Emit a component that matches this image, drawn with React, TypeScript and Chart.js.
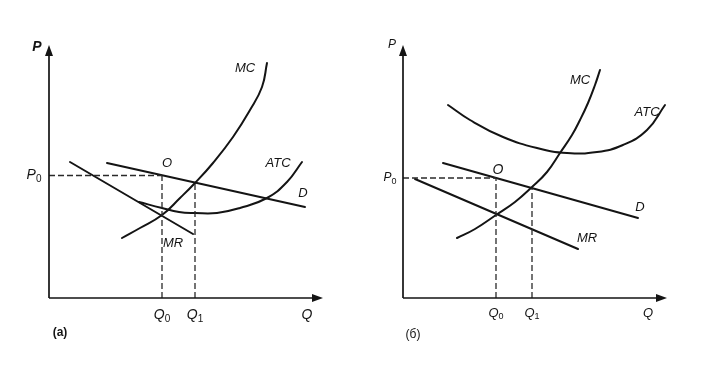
import React, { useEffect, useRef } from "react";
import { Chart, registerables } from "chart.js";
Chart.register(...registerables);

type Pt = [number, number];

// ---- Panel (a) : curves in abstract (Q, P) units ----
const A_MC: Pt[] = [[7.3, 6.0], [9.1, 7.0], [11.3, 8.3], [13.1, 10.0], [14.6, 11.5], [16.4, 13.5], [18.4, 16.1], [20.1, 18.8], [21.3, 21.1], [21.8, 23.5]];
const A_ATC: Pt[] = [[9.0, 9.6], [11.3, 9.0], [13.0, 8.6], [14.6, 8.5], [16.8, 8.5], [19.1, 9.0], [21.8, 10.0], [23.8, 11.6], [25.3, 13.6]];
const A_D: Pt[] = [[5.8, 13.5], [25.6, 9.1]];
const A_MR: Pt[] = [[2.1, 13.6], [14.4, 6.4]];
const A_Q0 = 11.3;
const A_Q1 = 14.6;
const A_P0 = 12.25;
const A_PQ1 = 11.55;
const A_AXIS_MAX: Pt = [27.4, 25.3];

// ---- Panel (б) ----
const B_MC: Pt[] = [[5.4, 6.0], [7.2, 6.9], [9.3, 8.3], [11.2, 9.6], [12.9, 11.1], [14.4, 12.6], [15.7, 14.5], [16.9, 16.3], [17.7, 17.8], [18.5, 19.5], [19.2, 21.3], [19.7, 22.8]];
const B_ATC: Pt[] = [[4.5, 19.3], [6.7, 17.8], [10.0, 16.1], [13.4, 15.0], [16.4, 14.5], [19.4, 14.6], [22.0, 15.3], [24.4, 16.8], [26.2, 19.3]];
const B_D: Pt[] = [[4.0, 13.5], [23.5, 8.0]];
const B_MR: Pt[] = [[1.2, 11.9], [17.5, 4.9]];
const B_Q0 = 9.3;
const B_Q1 = 12.9;
const B_P0 = 12.0;
const B_PQ1 = 11.0;
const B_AXIS_MAX: Pt = [26.4, 25.3];

type Label = { text: string; sub?: string; at: Pt; bold?: boolean; italic?: boolean; size?: number };

const A_LABELS: Label[] = [
  { text: "P", at: [-1.2, 25.1], bold: true, size: 14 },
  { text: "P", sub: "0", at: [-1.5, A_P0], size: 14 },
  { text: "O", at: [11.8, 13.5] },
  { text: "MC", at: [19.6, 23.0] },
  { text: "ATC", at: [22.9, 13.5] },
  { text: "D", at: [25.4, 10.5] },
  { text: "MR", at: [12.4, 5.5] },
  { text: "Q", sub: "0", at: [A_Q0, -1.7], size: 14 },
  { text: "Q", sub: "1", at: [A_Q1, -1.7], size: 14 },
  { text: "Q", at: [25.8, -1.7], size: 14 },
  { text: "(a)", at: [1.1, -3.5], italic: false, bold: true, size: 12 },
];

const B_LABELS: Label[] = [
  { text: "P", at: [-1.1, 25.3], size: 12 },
  { text: "P", sub: "0", at: [-1.3, B_P0], size: 12 },
  { text: "O", at: [9.5, 12.8], size: 14 },
  { text: "MC", at: [17.7, 21.8] },
  { text: "ATC", at: [24.4, 18.6] },
  { text: "D", at: [23.7, 9.1] },
  { text: "MR", at: [18.4, 6.0] },
  { text: "Q", sub: "0", at: [B_Q0, -1.5] },
  { text: "Q", sub: "1", at: [B_Q1, -1.5] },
  { text: "Q", at: [24.5, -1.5] },
  { text: "(б)", at: [1.0, -3.7], italic: false, size: 12 },
];

const INK = "#141414";
const FONT = "'Liberation Sans', Arial, sans-serif";

type Panel = {
  mc: Pt[]; atc: Pt[]; d: Pt[]; mr: Pt[];
  q0: number; q1: number; p0: number; pq1: number;
  axisMax: Pt; labels: Label[];
  padding: { left: number; right: number; top: number; bottom: number };
};

const toXY = (pts: Pt[]) => pts.map(([x, y]) => ({ x, y }));

const overlayPlugin = (panel: Panel) => ({
  id: "overlay",
  afterDatasetsDraw(chart: any) {
    const ctx: CanvasRenderingContext2D = chart.ctx;
    const xs = chart.scales.x;
    const ys = chart.scales.y;
    const X = (v: number) => xs.getPixelForValue(v);
    const Y = (v: number) => ys.getPixelForValue(v);
    const x0 = X(0), y0 = Y(0), xe = X(xs.max), ye = Y(ys.max);
    ctx.save();
    ctx.strokeStyle = INK;
    ctx.fillStyle = INK;
    ctx.lineWidth = 1.7;
    ctx.beginPath();
    ctx.moveTo(x0, y0);
    ctx.lineTo(x0, ye + 8);
    ctx.moveTo(x0, y0);
    ctx.lineTo(xe - 8, y0);
    ctx.stroke();
    // arrowheads
    ctx.beginPath();
    ctx.moveTo(x0, ye);
    ctx.lineTo(x0 - 4, ye + 11);
    ctx.lineTo(x0 + 4, ye + 11);
    ctx.closePath();
    ctx.fill();
    ctx.beginPath();
    ctx.moveTo(xe, y0);
    ctx.lineTo(xe - 11, y0 - 4);
    ctx.lineTo(xe - 11, y0 + 4);
    ctx.closePath();
    ctx.fill();
    // labels
    ctx.textBaseline = "middle";
    for (const l of panel.labels) {
      const size = l.size ?? 13;
      const style = `${l.italic === false ? "" : "italic "}${l.bold ? "bold " : ""}`;
      ctx.font = `${style}${size}px ${FONT}`;
      const mainW = ctx.measureText(l.text).width;
      let subW = 0;
      const subFont = `${Math.round(size * 0.72)}px ${FONT}`;
      if (l.sub) {
        ctx.font = subFont;
        subW = ctx.measureText(l.sub).width;
      }
      const total = mainW + subW;
      const cx = X(l.at[0]);
      const cy = Y(l.at[1]);
      ctx.font = `${style}${size}px ${FONT}`;
      ctx.textAlign = "left";
      ctx.fillText(l.text, cx - total / 2, cy);
      if (l.sub) {
        ctx.font = subFont;
        ctx.fillText(l.sub, cx - total / 2 + mainW, cy + size * 0.3);
      }
    }
    ctx.restore();
  },
});

function PanelChart({ panel, left }: { panel: Panel; left: number }) {
  const ref = useRef<HTMLCanvasElement | null>(null);
  useEffect(() => {
    if (!ref.current) return;
    const curve = (pts: Pt[], label: string) => ({
      label,
      data: toXY(pts),
      showLine: true,
      borderColor: INK,
      borderWidth: 2,
      pointRadius: 0,
      tension: 0.45,
      borderCapStyle: "round",
      fill: false,
    });
    const dashed = (pts: Pt[], label: string) => ({
      label,
      data: toXY(pts),
      showLine: true,
      borderColor: "#2a2a2a",
      borderWidth: 1.3,
      borderDash: [6, 3],
      pointRadius: 0,
      fill: false,
    });
    const chart = new Chart(ref.current, {
      type: "scatter",
      data: {
        datasets: [
          dashed([[0, panel.p0], [panel.q0, panel.p0]], "P0 guide"),
          dashed([[panel.q0, 0], [panel.q0, panel.p0]], "Q0 guide"),
          dashed([[panel.q1, 0], [panel.q1, panel.pq1]], "Q1 guide"),
          curve(panel.mc, "MC"),
          curve(panel.atc, "ATC"),
          curve(panel.d, "D"),
          curve(panel.mr, "MR"),
        ] as any,
      },
      plugins: [overlayPlugin(panel)],
      options: {
        responsive: false,
        animation: false,
        layout: { padding: panel.padding },
        plugins: { legend: { display: false }, tooltip: { enabled: false } },
        scales: {
          x: { type: "linear", min: 0, max: panel.axisMax[0], display: false },
          y: { type: "linear", min: 0, max: panel.axisMax[1], display: false },
        },
      } as any,
    });
    return () => chart.destroy();
  }, [panel]);
  return (
    <canvas
      ref={ref}
      width={356}
      height={365}
      style={{ position: "absolute", left, top: 0, width: 356, height: 365 }}
    />
  );
}

const PANEL_A: Panel = {
  mc: A_MC, atc: A_ATC, d: A_D, mr: A_MR,
  q0: A_Q0, q1: A_Q1, p0: A_P0, pq1: A_PQ1,
  axisMax: A_AXIS_MAX, labels: A_LABELS,
  padding: { left: 49, right: 33, top: 45, bottom: 67 },
};

const PANEL_B: Panel = {
  mc: B_MC, atc: B_ATC, d: B_D, mr: B_MR,
  q0: B_Q0, q1: B_Q1, p0: B_P0, pq1: B_PQ1,
  axisMax: B_AXIS_MAX, labels: B_LABELS,
  padding: { left: 47, right: 45, top: 45, bottom: 67 },
};

export default function App() {
  return (
    <div style={{ position: "fixed", left: 0, top: 0, width: 712, height: 365, background: "#fff", overflow: "hidden" }}>
      <PanelChart panel={PANEL_A} left={0} />
      <PanelChart panel={PANEL_B} left={356} />
    </div>
  );
}
